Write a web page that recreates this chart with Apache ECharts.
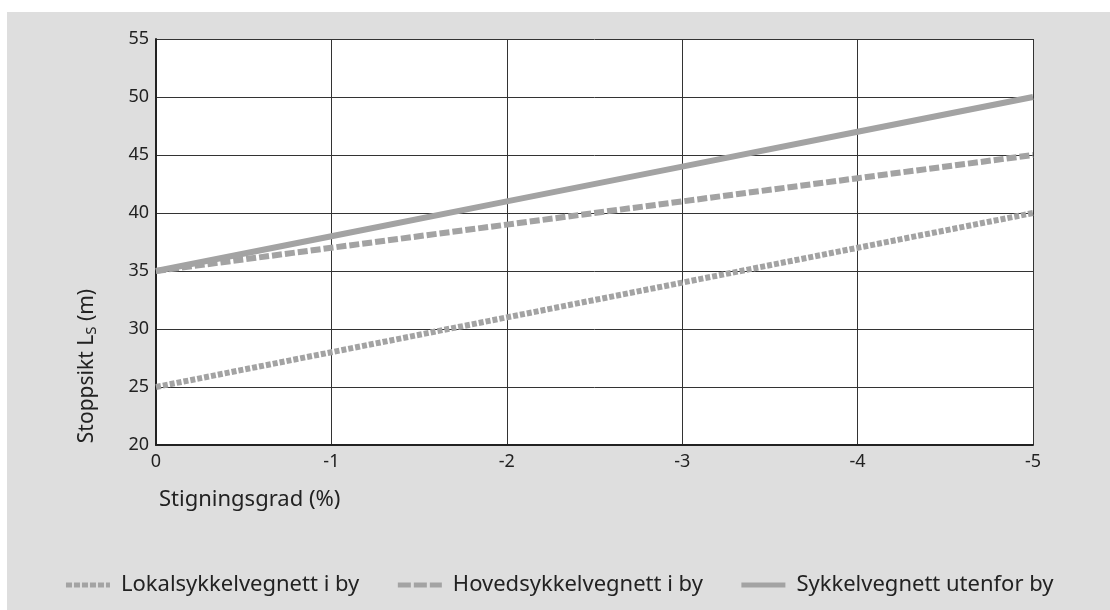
<!DOCTYPE html>
<html>
<head>
<meta charset="utf-8">
<script src="https://cdn.jsdelivr.net/npm/echarts@6/dist/echarts.min.js"></script>
<style>
    html, body { margin: 0; padding: 0; background: #fff; }
    #chart { position: absolute; left: 7px; top: 12px; width: 1103px; height: 598px; background: #dedede; }
</style>
</head>
<body>
<div id="chart"></div>
<script>
    const grades = [0, -1, -2, -3, -4, -5]
    const lokal = [25, 28, 31, 34, 37, 40]
    const hoved = [35, 37, 39, 41, 43, 45]
    const utenfor = [35, 38, 41, 44, 47, 50]
    const seriesNames = ['Lokalsykkelvegnett i by', 'Hovedsykkelvegnett i by', 'Sykkelvegnett utenfor by']

    const myChart = echarts.init(document.getElementById('chart'))
    const font = 'Noto Sans'
    const lineColor = '#a3a3a3'
    const dashTypes = [[5, 2], [10, 3], 'solid']
    const legendDash = [[6, 2], [13, 3], 'solid']

    function pairs(arr) {
        return grades.map((g, i) => [g, arr[i]])
    }

    const option = {
        textStyle: { fontFamily: font },
        title: {
            text: 'Stigningsgrad (%)',
            left: 147,
            top: 472,
            textStyle: { fontFamily: font, fontSize: 22, fontWeight: 'normal', color: '#222' }
        },
        graphic: [
            {
                // y axis title sits low on the axis in the original
                type: 'text',
                x: 80,
                y: 354,
                rotation: Math.PI / 2,
                style: {
                    text: 'Stoppsikt L{sub|S} (m)',
                    fill: '#222',
                    font: '21px "Noto Sans"',
                    align: 'center',
                    verticalAlign: 'middle',
                    rich: { sub: { fontFamily: font, fontSize: 15, fill: '#222', padding: [9, 0, 0, 0] } }
                }
            }
        ],
        legend: {
            bottom: 9,
            left: 'center',
            itemWidth: 44,
            itemHeight: 12,
            itemGap: 36,
            itemStyle: { opacity: 0 },
            lineStyle: { width: 5 },
            textStyle: { fontFamily: font, fontSize: 22, color: '#222', padding: [0, 0, 0, 6] },
            data: seriesNames.map((n, i) => ({ name: n, lineStyle: { width: 5, type: legendDash[i] } }))
        },
        grid: { left: 149, right: 77, top: 27, bottom: 165, show: true, backgroundColor: '#fff', borderWidth: 0 },
        xAxis: {
            type: 'value',
            min: -5,
            max: 0,
            interval: 1,
            inverse: true,
            axisLine: { lineStyle: { color: '#222', width: 2 } },
            axisTick: { show: false },
            axisLabel: { color: '#222', fontSize: 18, margin: 8 },
            splitLine: { lineStyle: { color: '#333', width: 1 } }
        },
        yAxis: {
            type: 'value',
            min: 20,
            max: 55,
            interval: 5,
            axisLine: { show: true, lineStyle: { color: '#222', width: 2 } },
            axisTick: { show: false },
            axisLabel: { color: '#222', fontSize: 18, margin: 7 },
            splitLine: { lineStyle: { color: '#333', width: 1 } }
        },
        series: [lokal, hoved, utenfor].map((arr, i) => ({
            name: seriesNames[i],
            type: 'line',
            symbol: 'none',
            silent: true,
            lineStyle: { color: lineColor, width: 6, type: dashTypes[i] },
            itemStyle: { color: lineColor },
            data: pairs(arr)
        }))
    }
    myChart.setOption(option)
</script>
</body>
</html>
